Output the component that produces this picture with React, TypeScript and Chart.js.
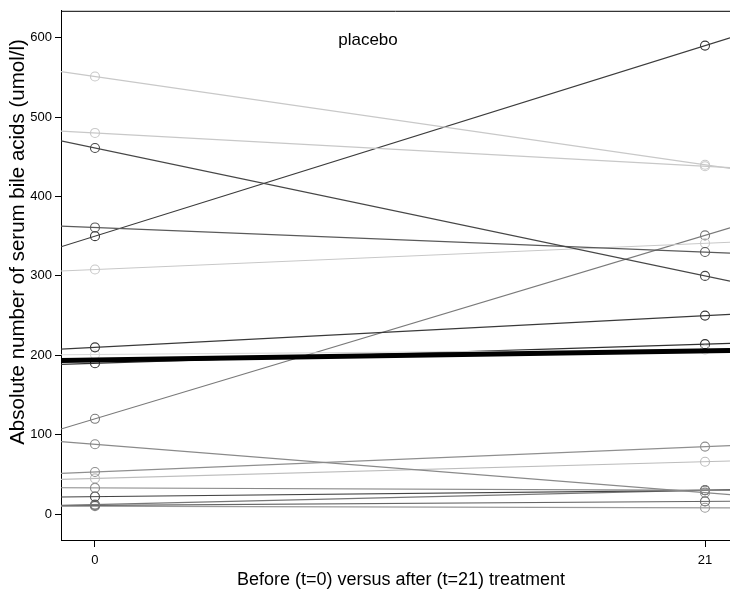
import { useEffect, useRef } from 'react';
import { Chart, registerables } from 'chart.js';

Chart.register(...registerables);

// Values at t=0 (before) and t=21 (after), per subject
const before = [551, 480, 461, 361, 350, 308, 210, 201, 190, 120, 88, 53, 45, 33, 22, 12, 11, 10];
const after = [440, 438, 300, 330, 590, 341, 250, 207, 214, 351, 27, 85, 66, 30, 30, 30, 16, 8];
const lineColors = [
  '#c8c8c8', '#c8c8c8', '#474747', '#5a5a5a', '#3c3c3c', '#c8c8c8', '#3a3a3a', '#d8d8d8', '#303030',
  '#7a7a7a', '#8a8a8a', '#8f8f8f', '#bdbdbd', '#888888', '#444444', '#777777', '#666666', '#9a9a9a',
];
// group (thick) line at t=0 and t=21
const groupLine = [194, 205.5];

const xTicks = [0, 21];
const yTicks = [0, 100, 200, 300, 400, 500, 600];
const titleText = 'placebo';
const xTitle = 'Before (t=0) versus after (t=21) treatment';
const yTitle = 'Absolute number of serum bile acids (umol/l)';

const X_MIN = -1.17;
const X_MAX = 21.86;
const Y_MIN = -32.6;
const Y_MAX = 633.8;
const FONT = "'Liberation Sans', Arial, sans-serif";

function lineThrough(y0: number, y21: number) {
  const s = (y21 - y0) / 21;
  return [
    { x: X_MIN, y: y0 + s * X_MIN },
    { x: X_MAX, y: y0 + s * X_MAX },
  ];
}

export default function App() {
  const ref = useRef<HTMLCanvasElement | null>(null);
  useEffect(() => {
    if (!ref.current) return;
    const datasets: any[] = [];
    datasets.push({
      data: lineThrough(groupLine[0], groupLine[1]),
      showLine: true,
      borderColor: '#000',
      borderWidth: 5,
      pointRadius: 0,
    });
    before.forEach((b, i) => {
      datasets.push({
        data: [
          { x: 0, y: b },
          { x: 21, y: after[i] },
        ],
        showLine: false,
        pointRadius: 4.5,
        pointBorderWidth: 1.1,
        pointBorderColor: lineColors[i],
        pointBackgroundColor: 'rgba(0,0,0,0)',
      });
      datasets.push({
        data: lineThrough(b, after[i]),
        showLine: true,
        borderColor: lineColors[i],
        borderWidth: 1.2,
        pointRadius: 0,
      });
    });

    const deco = {
      id: 'deco',
      afterDraw(chart: any) {
        const { ctx, chartArea } = chart;
        ctx.save();
        ctx.strokeStyle = '#000';
        ctx.lineWidth = 1;
        ctx.beginPath();
        ctx.moveTo(chartArea.left, chartArea.top + 0.5);
        ctx.lineTo(chartArea.right, chartArea.top + 0.5);
        ctx.stroke();
        ctx.fillStyle = '#000';
        ctx.textAlign = 'center';
        ctx.textBaseline = 'middle';
        ctx.font = `17px ${FONT}`;
        ctx.fillText(titleText, 368, 40);
        ctx.font = `18px ${FONT}`;
        ctx.fillText(xTitle, 401, 580);
        ctx.translate(18, 242);
        ctx.rotate(-Math.PI / 2);
        ctx.font = `20.5px ${FONT}`;
        ctx.fillText(yTitle, 0, 0);
        ctx.restore();
      },
    };

    const chart = new Chart(ref.current, {
      type: 'scatter',
      data: { datasets },
      options: {
        animation: false,
        responsive: false,
        devicePixelRatio: 1,
        layout: { autoPadding: false, padding: { top: 8, left: 0, right: 0, bottom: 0 } },
        plugins: { legend: { display: false }, tooltip: { enabled: false } },
        scales: {
          x: {
            type: 'linear',
            min: X_MIN,
            max: X_MAX,
            afterBuildTicks: (s: any) => {
              s.ticks = xTicks.map((v) => ({ value: v }));
            },
            afterFit: (s: any) => {
              s.height = 54;
            },
            grid: { drawOnChartArea: false, tickLength: 7, color: '#000', tickWidth: 1 },
            border: { display: true, color: '#000', width: 1 },
            ticks: { color: '#000', font: { size: 13, family: FONT }, padding: 6, autoSkip: false, maxRotation: 0 },
          },
          y: {
            type: 'linear',
            min: Y_MIN,
            max: Y_MAX,
            afterBuildTicks: (s: any) => {
              s.ticks = yTicks.map((v) => ({ value: v }));
            },
            afterFit: (s: any) => {
              s.width = 61;
            },
            grid: { drawOnChartArea: false, tickLength: 6, color: '#000', tickWidth: 1 },
            border: { display: true, color: '#000', width: 1 },
            ticks: { color: '#000', font: { size: 13, family: FONT }, padding: 3, autoSkip: false },
          },
        },
      },
      plugins: [deco],
    } as any);
    return () => chart.destroy();
  }, []);
  return (
    <div style={{ position: 'absolute', left: 0, top: 0, width: 730, height: 594, background: '#fff' }}>
      <canvas ref={ref} width={730} height={594} />
    </div>
  );
}
